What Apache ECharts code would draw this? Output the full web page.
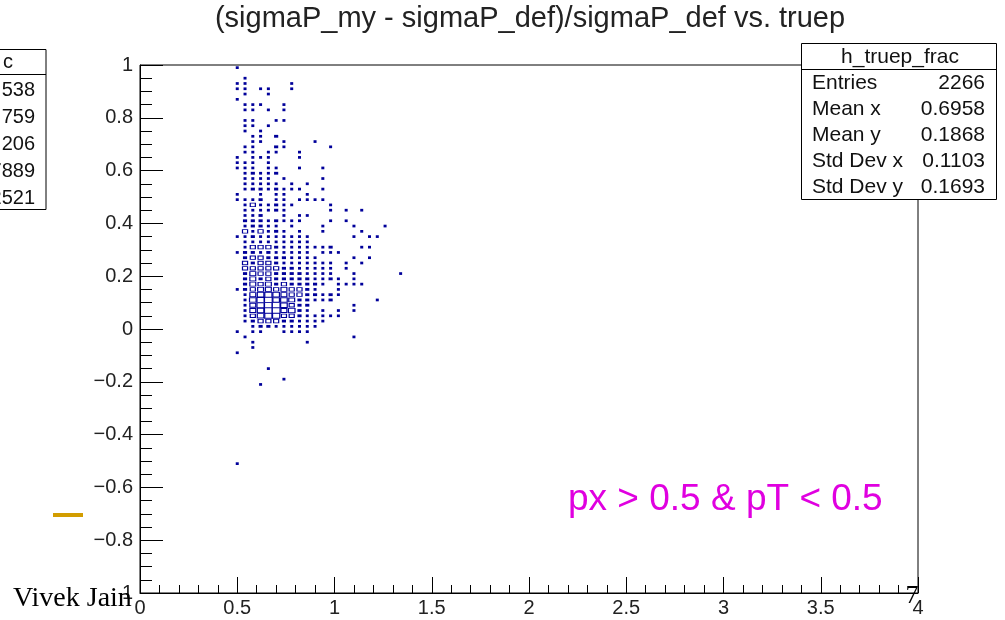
<!DOCTYPE html>
<html><head><meta charset="utf-8">
<script src="https://cdn.jsdelivr.net/npm/echarts@6/dist/echarts.min.js"></script>
<style>html,body{margin:0;padding:0;background:#fff}#c{width:1005px;height:620px}</style>
</head><body><div id="c"></div>
<script>
// ---------------- data ----------------
const chartTitle = '(sigmaP_my - sigmaP_def)/sigmaP_def vs. truep';
// bin centres along x (truep), 0.04 wide
const xBinCenters = [0.50,0.54,0.58,0.62,0.66,0.70,0.74,0.78,0.82,0.86,0.90,0.94,0.98,1.02,1.06,1.10,1.14,1.18,1.22,1.26,1.30,1.34];
// bin centres along y, 0.02 tall (only rows that hold entries)
const yRowCenters = [0.99,0.95,0.93,0.91,0.89,0.87,0.85,0.83,0.79,0.77,0.75,0.73,0.71,0.69,0.67,0.65,0.63,0.61,0.59,0.57,0.55,0.53,0.51,0.49,0.47,0.45,0.43,0.41,0.39,0.37,0.35,0.33,0.31,0.29,0.27,0.25,0.23,0.21,0.19,0.17,0.15,0.13,0.11,0.09,0.07,0.05,0.03,0.01,-0.01,-0.03,-0.05,-0.07,-0.09,-0.15,-0.19,-0.21,-0.51];
// estimated cell contents per row, one character per x bin ('.' = empty)
const rowCounts = [
  '1.....................',
  '.1....................',
  '11.....1..............',
  '11.11..1..............',
  '.1..1.................',
  '1.....................',
  '.111..1...............',
  '.11.1.1...............',
  '.11..11...............',
  '.11.1.................',
  '.1.1..................',
  '..11.2................',
  '..11..1...1...........',
  '.11..21.....1.........',
  '.11.11..1.............',
  '1.111...1.............',
  '111.1.................',
  '111.11..1..1..........',
  '.12112................',
  '.1111.1....1..........',
  '.11111.1.1............',
  '.12212111..1..........',
  '1..1.11..1............',
  '1112.11.1111..........',
  '.1311211....1.........',
  '.111121.....1.1.1.....',
  '.112..1.11............',
  '.22212111...1.1.......',
  '.12211.1...1...1...1..',
  '.313121.1..1....1.....',
  '1121111111.....1.11...',
  '.111111111............',
  '.133321111112...11....',
  '1221211111.111........',
  '.2332221111....1.1....',
  '.323321111111.1.1.....',
  '.333332211111.1.......',
  '.243322221111..1.....1',
  '.2423222221121.1......',
  '.24342322221.1111.....',
  '12344343321..1........',
  '.1456543322121........',
  '.156755422112.....1...',
  '.146875322.....1......',
  '.145994521.1.1.1......',
  '.1356633211111........',
  '.12333221111..........',
  '..122111111...........',
  '1.11..1111............',
  '.1.............1......',
  '..1......1............',
  '..1...................',
  '1.....................',
  '....1.................',
  '......1...............',
  '...1..................',
  '1.....................'
];
const statsName = 'h_truep_frac';
const statsLabels = ['Entries','Mean x','Mean y','Std Dev x','Std Dev y'];
const statsValues = ['2266','0.6958','0.1868','0.1103','0.1693'];
const leftBoxTexts = ['c','538','759','206','7889','2521'];
const cutLabel = 'px > 0.5 & pT < 0.5';
const authorText = 'Vivek Jain';
const slideNumber = '7';

// ---------------- build ----------------
const cells = [];
rowCounts.forEach((row, i) => {
  for (let j = 0; j < row.length; j++) {
    const ch = row[j];
    if (ch !== '.') cells.push([xBinCenters[j], yRowCenters[i], parseInt(ch, 10)]);
  }
});
const CMAX = 7;
const G = {left: 140, right: 87, top: 65, bottom: 27};
const gridW = 1005 - G.left - G.right, gridH = 620 - G.top - G.bottom;
const BW = gridW * 0.04 / 4, BH = gridH * 0.02 / 2;
const boxSize = v => {
  const r = Math.min(1, Math.sqrt(v[2] / CMAX));
  return [Math.max(3, BW * r), Math.max(2.7, BH * r)];
};
const smallCells = cells.filter(c => c[2] <= 2);
const bigCells = cells.filter(c => c[2] > 2);
const NAVY = '#00009a';
const SANS = '"Liberation Sans", Arial, Helvetica, sans-serif';
const SERIF = '"Liberation Serif", "Times New Roman", serif';

const graphics = [];
// title
graphics.push({type: 'text', x: 530, y: 19, z: 10, style: {text: chartTitle, font: '29px ' + SANS, fill: '#222', align: 'center', verticalAlign: 'middle'}});
// left stats box fragment
graphics.push({type: 'rect', z: 10, shape: {x: -20, y: 49.5, width: 66, height: 160}, style: {fill: '#fff', stroke: '#000', lineWidth: 1}});
graphics.push({type: 'line', z: 11, shape: {x1: -20, y1: 74.5, x2: 46, y2: 74.5}, style: {stroke: '#000', lineWidth: 1}});
leftBoxTexts.forEach((t, i) => {
  graphics.push({type: 'text', z: 11, x: i === 0 ? 13 : 35, y: i === 0 ? 62 : 90 + (i - 1) * 27,
    style: {text: t, font: '20px ' + SANS, fill: '#111', align: 'right', verticalAlign: 'middle'}});
});
// right stats box
graphics.push({type: 'rect', z: 10, shape: {x: 801.5, y: 43.5, width: 195, height: 156}, style: {fill: '#fff', stroke: '#000', lineWidth: 1}});
graphics.push({type: 'line', z: 11, shape: {x1: 801.5, y1: 69.5, x2: 996.5, y2: 69.5}, style: {stroke: '#000', lineWidth: 1}});
graphics.push({type: 'text', z: 11, x: 900, y: 57, style: {text: statsName, font: '21px ' + SANS, fill: '#111', align: 'center', verticalAlign: 'middle'}});
statsLabels.forEach((t, i) => {
  graphics.push({type: 'text', z: 11, x: 812, y: 83 + i * 26, style: {text: t, font: '21px ' + SANS, fill: '#111', align: 'left', verticalAlign: 'middle'}});
  graphics.push({type: 'text', z: 11, x: 985, y: 83 + i * 26, style: {text: statsValues[i], font: '21px ' + SANS, fill: '#111', align: 'right', verticalAlign: 'middle'}});
});
// magenta cut label
graphics.push({type: 'text', z: 10, x: 568, y: 500, style: {text: cutLabel, font: '37px ' + SANS, fill: '#e000e0', align: 'left', verticalAlign: 'middle'}});
// orange dash
graphics.push({type: 'rect', z: 10, shape: {x: 53, y: 513, width: 30, height: 4}, style: {fill: '#d29d00'}});
// author text with white backing
graphics.push({type: 'rect', z: 20, shape: {x: 8, y: 584, width: 114, height: 30}, style: {fill: '#fff'}});
graphics.push({type: 'text', z: 21, x: 13, y: 599, style: {text: authorText, font: '28px ' + SERIF, fill: '#000', align: 'left', verticalAlign: 'middle'}});
graphics.push({type: 'text', z: 21, x: 912, y: 596, style: {text: slideNumber, font: '26px ' + SERIF, fill: '#000', align: 'center', verticalAlign: 'middle'}});

const yFmt = v => { const s = String(+(+v).toFixed(2)); return v < 0 ? '\u2212' + s.replace('-', '') : s; };

const option = {
  animation: false,
  backgroundColor: '#fff',
  grid: Object.assign({show: true, borderColor: '#000', borderWidth: 1, backgroundColor: 'transparent'}, G),
  xAxis: {
    type: 'value', min: 0, max: 4, interval: 0.5,
    axisLine: {show: true, onZero: false, lineStyle: {color: '#000', width: 1}},
    axisTick: {show: true, inside: true, length: 16, lineStyle: {color: '#000', width: 1}},
    minorTick: {show: true, splitNumber: 5, length: 8, lineStyle: {color: '#000', width: 1}},
    splitLine: {show: false},
    axisLabel: {fontSize: 20, color: '#222', fontFamily: SANS, margin: 5, formatter: v => String(+(+v).toFixed(2))}
  },
  yAxis: {
    type: 'value', min: -1, max: 1, interval: 0.2,
    axisLine: {show: true, onZero: false, lineStyle: {color: '#000', width: 1}},
    axisTick: {show: true, inside: true, length: 23, lineStyle: {color: '#000', width: 1}},
    minorTick: {show: true, splitNumber: 4, length: 12, lineStyle: {color: '#000', width: 1}},
    splitLine: {show: false},
    axisLabel: {fontSize: 20, color: '#222', fontFamily: SANS, margin: 7, formatter: yFmt}
  },
  series: [
    {type: 'scatter', data: smallCells, symbol: 'rect', symbolSize: boxSize,
     itemStyle: {color: NAVY, opacity: 1}, emphasis: {disabled: true}},
    {type: 'scatter', data: bigCells, symbol: 'rect', symbolSize: boxSize,
     itemStyle: {color: '#fff', borderColor: NAVY, borderWidth: 1, opacity: 1}, emphasis: {disabled: true}}
  ],
  graphic: graphics
};
const chart = echarts.init(document.getElementById('c'), null, {renderer: 'canvas'});
chart.setOption(option);
</script></body></html>
